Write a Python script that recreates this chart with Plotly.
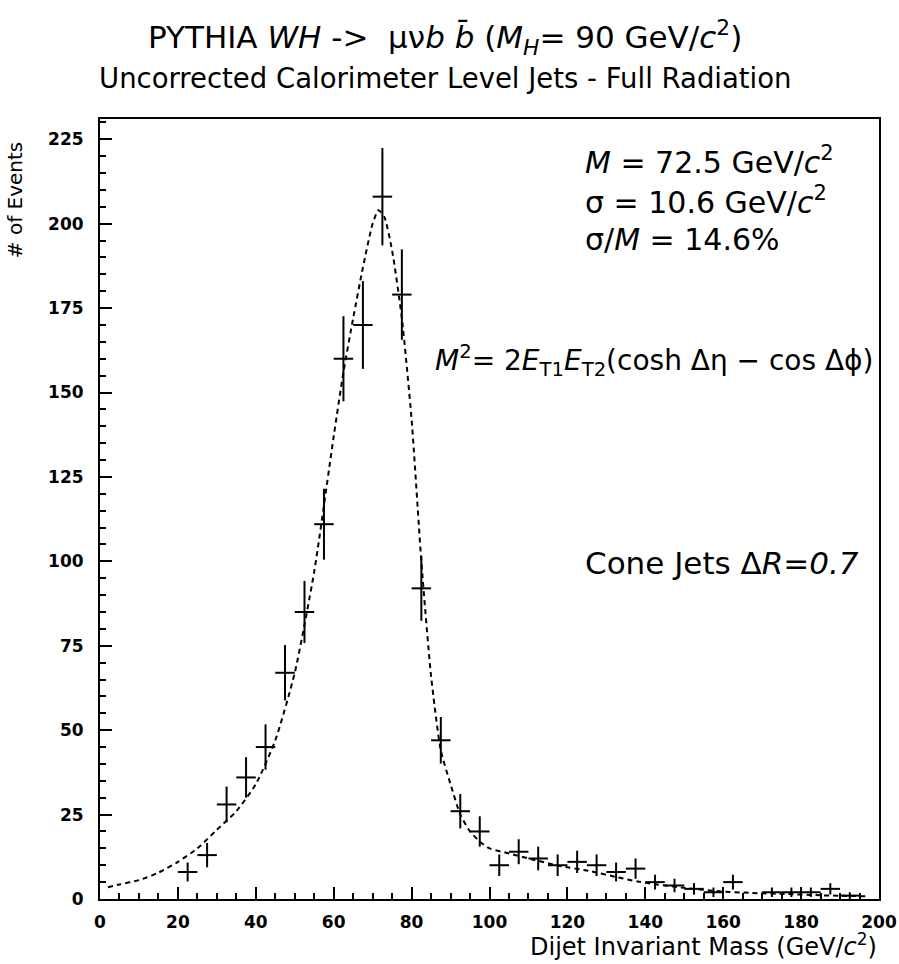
import plotly.graph_objects as go

# --- data (5 GeV bins, bin centres) ---
mass = [22.5, 27.5, 32.5, 37.5, 42.5, 47.5, 52.5, 57.5, 62.5, 67.5,
        72.5, 77.5, 82.5, 87.5, 92.5, 97.5, 102.5, 107.5, 112.5, 117.5,
        122.5, 127.5, 132.5, 137.5, 142.5, 147.5, 152.5, 157.5, 162.5,
        172.5, 177.5, 182.5, 187.5, 192.5]
events = [8, 13, 28, 36, 45, 67, 85, 111, 160, 170,
          208, 179, 92, 47, 26, 20, 10, 14, 12, 10,
          11, 10, 8, 9, 5, 4, 3, 2, 5,
          2, 2, 2, 3, 1]
errors = [2.8, 3.6, 5.3, 6.0, 6.7, 8.2, 9.2, 10.5, 12.6, 13.0,
          14.4, 13.4, 9.6, 6.9, 5.1, 4.5, 3.2, 3.7, 3.5, 3.2,
          3.3, 3.2, 2.8, 3.0, 2.2, 2.0, 1.7, 1.4, 2.2,
          1.4, 1.4, 1.4, 1.7, 1.0]
half_bin = 2.5

# --- fitted curve, points ---
fit_x = [2, 5, 10, 15, 20, 25, 30, 35, 40, 45, 50, 55, 60, 62.5, 65, 67.5,
         70, 71.5, 73, 75, 77.5, 80, 82.5, 85, 87.5, 90, 92.5, 95, 97.5,
         100, 105, 110, 118, 126, 133, 138, 143, 150, 159, 167, 176, 185, 197]
fit_y = [3.5, 4.3, 5.6, 7.8, 11, 15, 20.5, 26, 34, 47, 67, 97, 137, 156, 172, 187,
         200, 204, 202, 192, 172, 142, 100, 66, 44, 34, 25, 20, 17,
         15, 13.5, 12, 9.8, 8.2, 6.4, 5.2, 4.3, 3.3, 2.3, 1.8, 1.5, 1.1, 0.8]

x_ticks = list(range(0, 201, 20))
y_ticks = list(range(0, 226, 25))

FONT = "DejaVu Sans, Liberation Sans, Arial, sans-serif"

fig = go.Figure()

# dashed fit
fig.add_trace(go.Scatter(
    x=fit_x, y=fit_y,
    mode="lines",
    line=dict(color="black", width=2, dash="5px,4px", shape="spline", smoothing=0.6),
    showlegend=False, hoverinfo="skip",
))

# histogram points as crosses (error bars only)
fig.add_trace(go.Scatter(
    x=mass, y=events,
    mode="markers",
    marker=dict(size=1, color="black"),
    error_x=dict(type="constant", value=half_bin, width=0, thickness=2, color="black"),
    error_y=dict(type="data", array=errors, width=0, thickness=2, color="black"),
    showlegend=False,
))

annotations = [
    dict(xref="paper", yref="paper", x=0.443, y=1.105, xanchor="center", yanchor="middle",
         text="PYTHIA <i>WH</i> -&gt;  μν<i>b</i> <i>b̄</i> (<i>M<sub>H</sub></i>= 90 GeV/<i>c</i><sup>2</sup>)",
         font=dict(size=31), showarrow=False),
    dict(xref="paper", yref="paper", x=0.443, y=1.053, xanchor="center", yanchor="middle",
         text="Uncorrected Calorimeter Level Jets - Full Radiation",
         font=dict(size=27.5), showarrow=False),
    dict(xref="paper", yref="paper", x=0.62, y=0.947, xanchor="left", yanchor="middle",
         text="<i>M</i> = 72.5 GeV/<i>c</i><sup>2</sup>", font=dict(size=30), showarrow=False),
    dict(xref="paper", yref="paper", x=0.62, y=0.896, xanchor="left", yanchor="middle",
         text="σ = 10.6 GeV/<i>c</i><sup>2</sup>", font=dict(size=30), showarrow=False),
    dict(xref="paper", yref="paper", x=0.62, y=0.845, xanchor="left", yanchor="middle",
         text="σ/<i>M</i> = 14.6%", font=dict(size=30), showarrow=False),
    dict(xref="paper", yref="paper", x=0.996, y=0.691, xanchor="right", yanchor="middle",
         text="<i>M</i><sup>2</sup>= 2<i>E</i><sub>T1</sub><i>E</i><sub>T2</sub>(cosh Δη − cos Δϕ)",
         font=dict(size=28), showarrow=False),
    dict(xref="paper", yref="paper", x=0.62, y=0.431, xanchor="left", yanchor="middle",
         text="Cone Jets Δ<i>R=0.7</i>", font=dict(size=31), showarrow=False),
    # axis titles
    dict(xref="paper", yref="paper", x=1.0, y=-0.059, xanchor="right", yanchor="middle",
         text="Dijet Invariant Mass (GeV/<i>c</i><sup>2</sup>)", font=dict(size=24), showarrow=False),
    dict(xref="paper", yref="paper", x=-0.109, y=0.896, xanchor="center", yanchor="middle",
         text="# of Events", textangle=-90, font=dict(size=20), showarrow=False),
]

fig.update_layout(
    width=899, height=964, autosize=False,
    paper_bgcolor="white", plot_bgcolor="white",
    font=dict(family=FONT, color="black"),
    margin=dict(l=100, r=20, t=119, b=65),
    annotations=annotations,
    xaxis=dict(
        range=[0, 200],
        tickvals=x_ticks,
        ticks="inside", ticklen=12, tickwidth=2, tickcolor="black",
        minor=dict(dtick=5, ticks="inside", ticklen=6, tickwidth=2, tickcolor="black"),
        showline=True, linewidth=2, linecolor="black", mirror=True,
        showgrid=False, zeroline=False,
        tickfont=dict(size=17, weight="bold"),
        ticklabelstandoff=7,
        ticklabeloverflow="allow",
        automargin=False,
    ),
    yaxis=dict(
        range=[0, 231],
        tickvals=y_ticks,
        ticks="inside", ticklen=12, tickwidth=2, tickcolor="black",
        minor=dict(dtick=5, ticks="inside", ticklen=6, tickwidth=2, tickcolor="black"),
        showline=True, linewidth=2, linecolor="black", mirror=True,
        showgrid=False, zeroline=False,
        tickfont=dict(size=17, weight="bold"),
        ticklabelstandoff=11,
        automargin=False,
    ),
)

# no page margin so the 899x964 figure fills the window; no modebar
fig.write_html(
    "out.html",
    config={"responsive": False, "displayModeBar": False},
    post_script="document.body.style.margin='0';",
)
